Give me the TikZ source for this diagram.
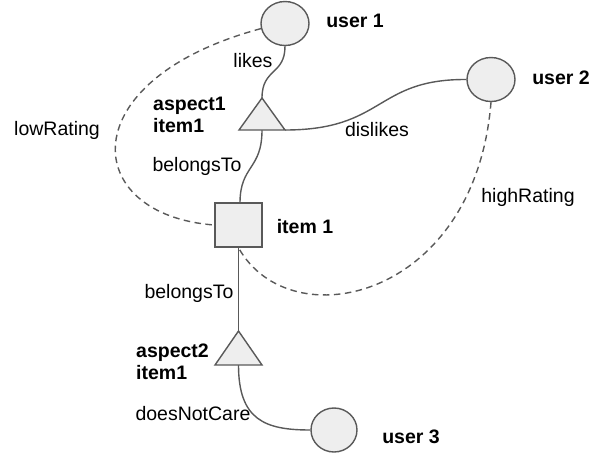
\documentclass[tikz,border=0pt]{standalone}
\usepackage{fontspec}
\setmainfont{Liberation Sans}
\usetikzlibrary{shapes.geometric,backgrounds}
\definecolor{edgec}{HTML}{595959}
\definecolor{fillc}{HTML}{EEEEEE}
\tikzset{
  userbox/.style={ellipse, draw=edgec, fill=fillc, line width=1.4pt, minimum width=48pt, minimum height=44pt, inner sep=0pt},
  itembox/.style={rectangle, draw=edgec, fill=fillc, line width=1.4pt, minimum width=47pt, minimum height=44pt, inner sep=0pt},
  tri/.style={draw=edgec, fill=fillc, line width=1.4pt, line join=miter},
  conn/.style={draw=edgec, line width=1.4pt},
  dconn/.style={draw=edgec, line width=1.4pt, dash pattern=on 6.5pt off 4.5pt},
  lbl/.style={inner sep=0pt, font=\fontsize{19.5}{22}\selectfont},
  blbl/.style={inner sep=0pt, font=\fontsize{19.5}{22}\selectfont\bfseries, align=left},
}
\begin{document}
\begin{tikzpicture}[x=1pt,y=-1pt]
\useasboundingbox (0,0) rectangle (592,453);
% nodes
\node[userbox] (u1) at (285,23.5) {};
\node[userbox] (u2) at (491,79.5) {};
\node[userbox, minimum width=46pt] (u3) at (334,430) {};
\node[itembox] (item) at (238.5,225) {};
% triangle corner coordinates
\coordinate (t1apex) at (262,98);
\coordinate (t1left) at (239,130);
\coordinate (t1right) at (285,130);
\coordinate (t1mid) at (262,130);
\coordinate (t2apex) at (238.5,331);
\coordinate (t2left) at (215,365);
\coordinate (t2right) at (262,365);
\coordinate (t2mid) at (238.5,365);
\coordinate (itemtop) at (240,203);
\draw[tri] (t1apex) -- (t1right) -- (t1left) -- cycle;
\draw[tri] (t2apex) -- (t2right) -- (t2left) -- cycle;
% connectors
\begin{pgfonlayer}{background}
\draw[conn] (u1.south) .. controls (285,75) and (262,68) .. (t1apex);
\draw[conn] (t1right) .. controls (385,130) and (375,79) .. (u2.west);
\draw[conn] (t1mid) .. controls (262,170) and (240,165) .. (itemtop);
\draw[conn] (item.south) -- (t2apex);
\draw[conn] (t2mid) .. controls (238.5,420) and (265,430) .. (u3.west);
\draw[dconn] (u1.192) .. controls (70,80) and (80,215) .. (item.west);
\draw[dconn] (u2.south) .. controls (475,300) and (290,340) .. (item.south);
\end{pgfonlayer}
% labels
\node[blbl] (u1lbl) at (355,21) {user 1};
\node[blbl] (u2lbl) at (561,78) {user 2};
\node[blbl] (u3lbl) at (411,437) {user 3};
\node[blbl] (itemlbl) at (305,227) {item 1};
\node[blbl, anchor=west] (a1lbl) at (153,115) {aspect1\\item1};
\node[blbl, anchor=west] (a2lbl) at (136,361.5) {aspect2\\item1};
\node[lbl] (likes) at (253,61) {likes};
\node[lbl] (dislikes) at (377,130) {dislikes};
\node[lbl] (bel1) at (197,166) {belongsTo};
\node[lbl] (bel2) at (189,293) {belongsTo};
\node[lbl] (low) at (57,130) {lowRating};
\node[lbl] (high) at (528,197) {highRating};
\node[lbl] (dnc) at (193,414) {doesNotCare};
\end{tikzpicture}
\end{document}
